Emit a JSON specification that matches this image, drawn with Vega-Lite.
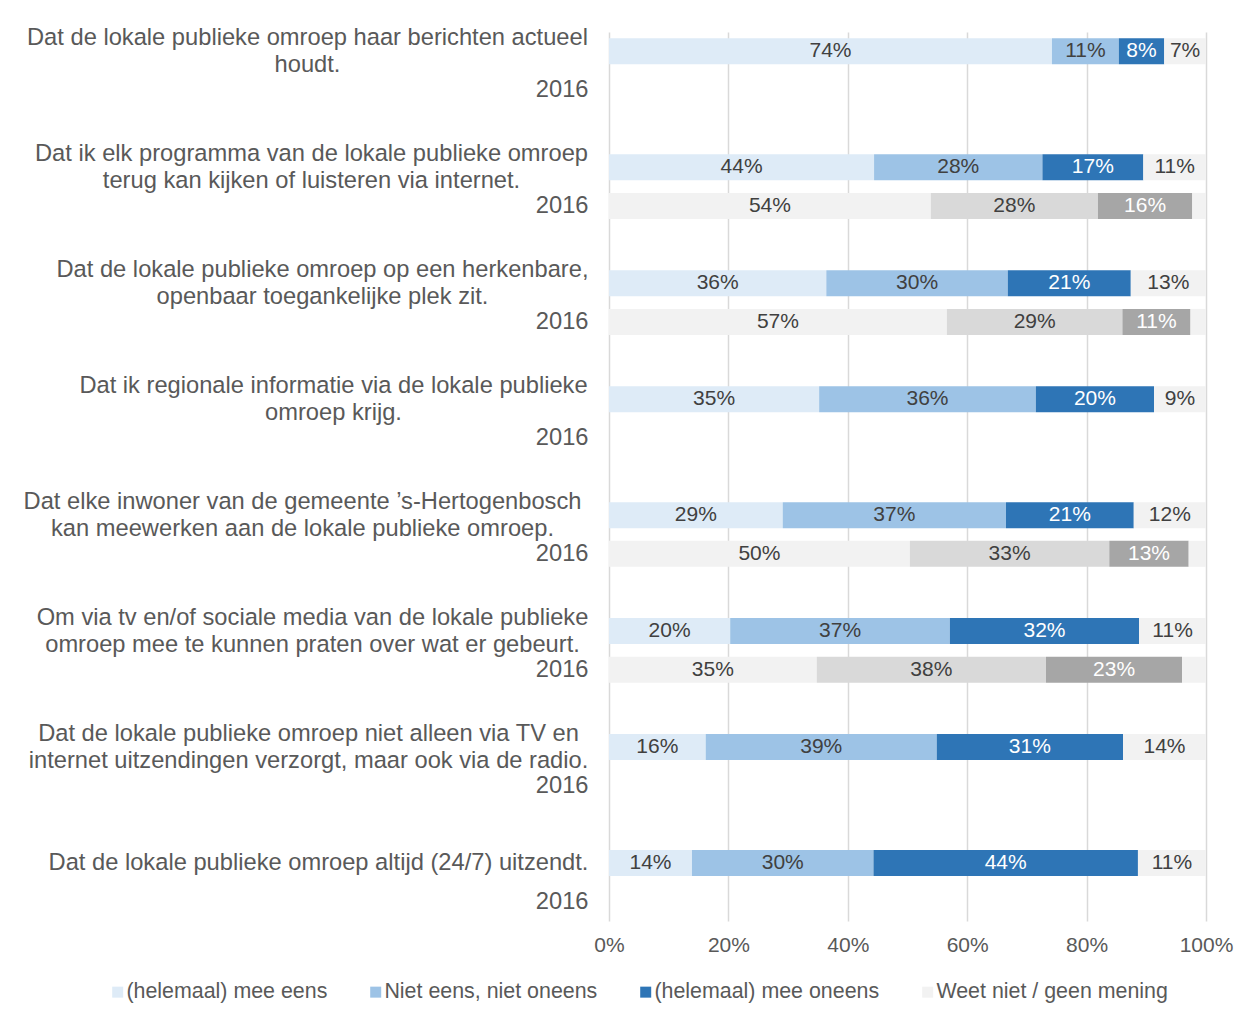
{
  "$schema": "https://vega.github.io/schema/vega-lite/v6.json",
  "width": 597,
  "height": 889,
  "autosize": {"type": "none"},
  "padding": {"left": 609, "top": 32, "right": 52, "bottom": 98},
  "background": "white",
  "config": {
    "view": {"stroke": null},
    "font": "Liberation Sans, Arial, sans-serif"
  },
  "data": {
    "values": [
      {"row": "1|Dat de lokale publieke omroep haar berichten actueel|houdt.", "cat": "(helemaal) mee eens", "o": 1, "v": 0.742},
      {"row": "1|Dat de lokale publieke omroep haar berichten actueel|houdt.", "cat": "Niet eens, niet oneens", "o": 2, "v": 0.112},
      {"row": "1|Dat de lokale publieke omroep haar berichten actueel|houdt.", "cat": "(helemaal) mee oneens", "o": 3, "v": 0.076},
      {"row": "1|Dat de lokale publieke omroep haar berichten actueel|houdt.", "cat": "Weet niet / geen mening", "o": 4, "v": 0.070},
      {"row": "2|Dat ik elk programma van de lokale publieke omroep|terug kan kijken of luisteren via internet.", "cat": "(helemaal) mee eens", "o": 1, "v": 0.444},
      {"row": "2|Dat ik elk programma van de lokale publieke omroep|terug kan kijken of luisteren via internet.", "cat": "Niet eens, niet oneens", "o": 2, "v": 0.282},
      {"row": "2|Dat ik elk programma van de lokale publieke omroep|terug kan kijken of luisteren via internet.", "cat": "(helemaal) mee oneens", "o": 3, "v": 0.169},
      {"row": "2|Dat ik elk programma van de lokale publieke omroep|terug kan kijken of luisteren via internet.", "cat": "Weet niet / geen mening", "o": 4, "v": 0.105},
      {"row": "2y|2016", "cat": "2016 a", "o": 1, "v": 0.539},
      {"row": "2y|2016", "cat": "2016 b", "o": 2, "v": 0.280},
      {"row": "2y|2016", "cat": "2016 c", "o": 3, "v": 0.158},
      {"row": "2y|2016", "cat": "2016 d", "o": 4, "v": 0.023},
      {"row": "3|Dat de lokale publieke omroep op een herkenbare,|openbaar toegankelijke plek zit.", "cat": "(helemaal) mee eens", "o": 1, "v": 0.364},
      {"row": "3|Dat de lokale publieke omroep op een herkenbare,|openbaar toegankelijke plek zit.", "cat": "Niet eens, niet oneens", "o": 2, "v": 0.304},
      {"row": "3|Dat de lokale publieke omroep op een herkenbare,|openbaar toegankelijke plek zit.", "cat": "(helemaal) mee oneens", "o": 3, "v": 0.206},
      {"row": "3|Dat de lokale publieke omroep op een herkenbare,|openbaar toegankelijke plek zit.", "cat": "Weet niet / geen mening", "o": 4, "v": 0.126},
      {"row": "3y|2016", "cat": "2016 a", "o": 1, "v": 0.566},
      {"row": "3y|2016", "cat": "2016 b", "o": 2, "v": 0.294},
      {"row": "3y|2016", "cat": "2016 c", "o": 3, "v": 0.114},
      {"row": "3y|2016", "cat": "2016 d", "o": 4, "v": 0.026},
      {"row": "4|Dat ik regionale informatie via de lokale publieke|omroep krijg.", "cat": "(helemaal) mee eens", "o": 1, "v": 0.352},
      {"row": "4|Dat ik regionale informatie via de lokale publieke|omroep krijg.", "cat": "Niet eens, niet oneens", "o": 2, "v": 0.363},
      {"row": "4|Dat ik regionale informatie via de lokale publieke|omroep krijg.", "cat": "(helemaal) mee oneens", "o": 3, "v": 0.198},
      {"row": "4|Dat ik regionale informatie via de lokale publieke|omroep krijg.", "cat": "Weet niet / geen mening", "o": 4, "v": 0.087},
      {"row": "5|Dat elke inwoner van de gemeente ’s-Hertogenbosch|kan meewerken aan de lokale publieke omroep.", "cat": "(helemaal) mee eens", "o": 1, "v": 0.291},
      {"row": "5|Dat elke inwoner van de gemeente ’s-Hertogenbosch|kan meewerken aan de lokale publieke omroep.", "cat": "Niet eens, niet oneens", "o": 2, "v": 0.374},
      {"row": "5|Dat elke inwoner van de gemeente ’s-Hertogenbosch|kan meewerken aan de lokale publieke omroep.", "cat": "(helemaal) mee oneens", "o": 3, "v": 0.214},
      {"row": "5|Dat elke inwoner van de gemeente ’s-Hertogenbosch|kan meewerken aan de lokale publieke omroep.", "cat": "Weet niet / geen mening", "o": 4, "v": 0.121},
      {"row": "5y|2016", "cat": "2016 a", "o": 1, "v": 0.504},
      {"row": "5y|2016", "cat": "2016 b", "o": 2, "v": 0.334},
      {"row": "5y|2016", "cat": "2016 c", "o": 3, "v": 0.133},
      {"row": "5y|2016", "cat": "2016 d", "o": 4, "v": 0.029},
      {"row": "6|Om via tv en/of sociale media van de lokale publieke|omroep mee te kunnen praten over wat er gebeurt.", "cat": "(helemaal) mee eens", "o": 1, "v": 0.203},
      {"row": "6|Om via tv en/of sociale media van de lokale publieke|omroep mee te kunnen praten over wat er gebeurt.", "cat": "Niet eens, niet oneens", "o": 2, "v": 0.368},
      {"row": "6|Om via tv en/of sociale media van de lokale publieke|omroep mee te kunnen praten over wat er gebeurt.", "cat": "(helemaal) mee oneens", "o": 3, "v": 0.317},
      {"row": "6|Om via tv en/of sociale media van de lokale publieke|omroep mee te kunnen praten over wat er gebeurt.", "cat": "Weet niet / geen mening", "o": 4, "v": 0.112},
      {"row": "6y|2016", "cat": "2016 a", "o": 1, "v": 0.348},
      {"row": "6y|2016", "cat": "2016 b", "o": 2, "v": 0.384},
      {"row": "6y|2016", "cat": "2016 c", "o": 3, "v": 0.228},
      {"row": "6y|2016", "cat": "2016 d", "o": 4, "v": 0.040},
      {"row": "7|Dat de lokale publieke omroep niet alleen via TV en|internet uitzendingen verzorgt, maar ook via de radio.", "cat": "(helemaal) mee eens", "o": 1, "v": 0.162},
      {"row": "7|Dat de lokale publieke omroep niet alleen via TV en|internet uitzendingen verzorgt, maar ook via de radio.", "cat": "Niet eens, niet oneens", "o": 2, "v": 0.387},
      {"row": "7|Dat de lokale publieke omroep niet alleen via TV en|internet uitzendingen verzorgt, maar ook via de radio.", "cat": "(helemaal) mee oneens", "o": 3, "v": 0.312},
      {"row": "7|Dat de lokale publieke omroep niet alleen via TV en|internet uitzendingen verzorgt, maar ook via de radio.", "cat": "Weet niet / geen mening", "o": 4, "v": 0.139},
      {"row": "8|Dat de lokale publieke omroep altijd (24/7) uitzendt.", "cat": "(helemaal) mee eens", "o": 1, "v": 0.139},
      {"row": "8|Dat de lokale publieke omroep altijd (24/7) uitzendt.", "cat": "Niet eens, niet oneens", "o": 2, "v": 0.304},
      {"row": "8|Dat de lokale publieke omroep altijd (24/7) uitzendt.", "cat": "(helemaal) mee oneens", "o": 3, "v": 0.443},
      {"row": "8|Dat de lokale publieke omroep altijd (24/7) uitzendt.", "cat": "Weet niet / geen mening", "o": 4, "v": 0.114}
    ]
  },
  "encoding": {
    "y": {
      "field": "row",
      "type": "nominal",
      "scale": {
        "domain": [
          "1|Dat de lokale publieke omroep haar berichten actueel|houdt.", "1y|2016", "1g|",
          "2|Dat ik elk programma van de lokale publieke omroep|terug kan kijken of luisteren via internet.", "2y|2016", "2g|",
          "3|Dat de lokale publieke omroep op een herkenbare,|openbaar toegankelijke plek zit.", "3y|2016", "3g|",
          "4|Dat ik regionale informatie via de lokale publieke|omroep krijg.", "4y|2016", "4g|",
          "5|Dat elke inwoner van de gemeente ’s-Hertogenbosch|kan meewerken aan de lokale publieke omroep.", "5y|2016", "5g|",
          "6|Om via tv en/of sociale media van de lokale publieke|omroep mee te kunnen praten over wat er gebeurt.", "6y|2016", "6g|",
          "7|Dat de lokale publieke omroep niet alleen via TV en|internet uitzendingen verzorgt, maar ook via de radio.", "7y|2016", "7g|",
          "8|Dat de lokale publieke omroep altijd (24/7) uitzendt.", "8y|2016"
        ],
        "paddingInner": 0.327,
        "paddingOuter": 0.1635
      },
      "axis": {
        "title": null,
        "domain": false,
        "ticks": false,
        "tickSize": 0,
        "grid": false,
        "labelExpr": "slice(split(datum.value, '|'), 1)",
        "labelFontSize": 23.7,
        "labelLineHeight": 27,
        "labelColor": "#595959",
        "labelLimit": 700,
        "labelBaseline": "middle",
        "labelAlign": {"condition": {"test": "indexof(datum.value, 'y|') >= 0", "value": "right"}, "value": "center"},
        "labelOffset": {
          "condition": {"test": "indexof(datum.value, 'y|') < 0 && indexof(datum.value, 'g|') < 0 && indexof(datum.value, '8|') != 0", "value": -13.5},
          "value": 0
        },
        "labelPadding": {
          "condition": [
            {"test": "indexof(datum.value, 'y|') >= 0", "value": 21},
            {"test": "indexof(datum.value, '1|') == 0", "value": 302},
            {"test": "indexof(datum.value, '2|') == 0", "value": 298},
            {"test": "indexof(datum.value, '3|') == 0", "value": 287},
            {"test": "indexof(datum.value, '4|') == 0", "value": 276},
            {"test": "indexof(datum.value, '5|') == 0", "value": 307},
            {"test": "indexof(datum.value, '6|') == 0", "value": 297},
            {"test": "indexof(datum.value, '7|') == 0", "value": 301},
            {"test": "indexof(datum.value, '8|') == 0", "value": 291}
          ],
          "value": 21
        }
      }
    },
    "x": {
      "field": "v",
      "type": "quantitative",
      "stack": "zero",
      "scale": {"domain": [0, 1], "nice": false},
      "axis": {
        "title": null,
        "format": ".0%",
        "values": [0, 0.2, 0.4, 0.6, 0.8, 1],
        "domain": false,
        "ticks": false,
        "tickSize": 0,
        "grid": true,
        "gridColor": "#d9d9d9",
        "gridWidth": 1.5,
        "labelFontSize": 21,
        "labelColor": "#595959",
        "labelPadding": 13,
        "labelFlush": false
      }
    },
    "order": {"field": "o", "type": "quantitative"}
  },
  "layer": [
    {
      "mark": {"type": "bar"},
      "encoding": {
        "color": {
          "field": "cat",
          "type": "nominal",
          "scale": {
            "domain": ["(helemaal) mee eens", "Niet eens, niet oneens", "(helemaal) mee oneens", "Weet niet / geen mening", "2016 a", "2016 b", "2016 c", "2016 d"],
            "range": ["#deebf7", "#9dc3e6", "#2e75b6", "#f2f2f2", "#f2f2f2", "#d9d9d9", "#a6a6a6", "#f2f2f2"]
          },
          "legend": {
            "title": null,
            "orient": "none",
            "legendX": -502,
            "legendY": 949,
            "direction": "horizontal",
            "columns": 4,
            "values": ["(helemaal) mee eens", "Niet eens, niet oneens", "(helemaal) mee oneens", "Weet niet / geen mening"],
            "symbolType": "square",
            "symbolSize": 121,
            "symbolStrokeWidth": 0,
            "labelFontSize": 21.4,
            "labelColor": "#595959",
            "labelOffset": -2,
            "labelLimit": 400,
            "columnPadding": 37
          }
        }
      }
    },
    {
      "transform": [{"filter": "datum.cat != '2016 d'"}],
      "mark": {"type": "text", "fontSize": 21, "baseline": "middle", "align": "center"},
      "encoding": {
        "x": {"field": "v", "type": "quantitative", "stack": "zero", "bandPosition": 0.5},
        "text": {"field": "v", "type": "quantitative", "format": ".0%"},
        "color": {
          "condition": {"test": "datum.cat == '(helemaal) mee oneens' || datum.cat == '2016 c'", "value": "#ffffff"},
          "value": "#404040"
        }
      }
    }
  ]
}
